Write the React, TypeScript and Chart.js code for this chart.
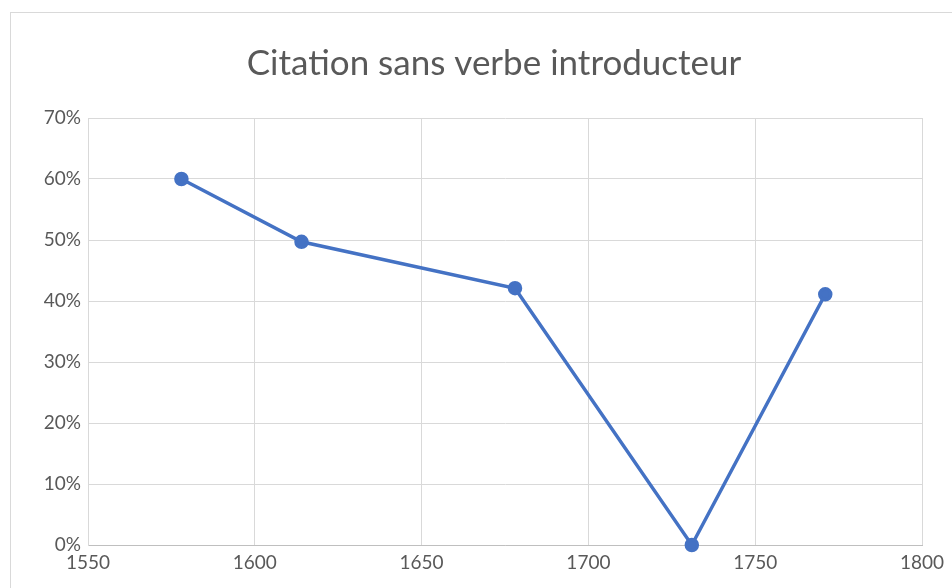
import React, { useEffect, useRef } from "react";
import { Chart, registerables } from "chart.js";

Chart.register(...registerables);

const TITLE = "Citation sans verbe introducteur";
const YEARS = [1578, 1614, 1678, 1731, 1771];
const SHARES = [0.6, 0.497, 0.421, 0.0, 0.411];
const X_MIN = 1550;
const X_MAX = 1800;
const X_STEP = 50;
const Y_MIN = 0;
const Y_MAX = 0.7;
const Y_STEP = 0.1;

const BLUE = "#4472C4";
const TEXT = "#595959";
const GRID = "#d9d9d9";

// Centre the title over the framed chart box rather than the canvas
const titleShift = {
  id: "titleShift",
  afterLayout(chart: any) {
    const t = chart.titleBlock;
    if (t) {
      t.left += 56;
    }
  },
};

export default function App() {
  const ref = useRef<HTMLCanvasElement | null>(null);

  useEffect(() => {
    if (!ref.current) return;
    const chart = new Chart(ref.current, {
      type: "line",
      data: {
        datasets: [
          {
            label: TITLE,
            data: YEARS.map((x, i) => ({ x, y: SHARES[i] })),
            borderColor: BLUE,
            backgroundColor: BLUE,
            borderWidth: 3.5,
            pointRadius: 5.5,
            pointBackgroundColor: BLUE,
            pointBorderColor: BLUE,
            tension: 0,
            clip: false,
          },
        ],
      },
      options: {
        responsive: false,
        animation: false,
        layout: { padding: { left: 10, right: 30, top: 0, bottom: 0 } },
        plugins: {
          legend: { display: false },
          tooltip: { enabled: false },
          title: {
            display: true,
            text: TITLE,
            color: TEXT,
            font: { family: "Lato", size: 35, weight: "normal" },
            padding: { top: 43, bottom: 33 },
          },
        },
        scales: {
          x: {
            type: "linear",
            min: X_MIN,
            max: X_MAX,
            ticks: {
              stepSize: X_STEP,
              color: TEXT,
              font: { family: "Lato", size: 19 },
              padding: 6,
              callback: (v: any) => String(v),
            },
            grid: { color: GRID, drawTicks: false },
            border: { color: "#bfbfbf" },
            afterFit: (s: any) => {
              s.height = 43;
            },
          },
          y: {
            min: Y_MIN,
            max: Y_MAX,
            ticks: {
              stepSize: Y_STEP,
              color: TEXT,
              font: { family: "Lato", size: 19 },
              padding: 7,
              callback: (v: any) => Math.round(Number(v) * 100) + "%",
            },
            grid: { color: GRID, drawTicks: false },
            border: { color: GRID },
            afterFit: (s: any) => {
              s.width = 78;
            },
          },
        },
      },
      plugins: [titleShift],
    });
    return () => chart.destroy();
  }, []);

  return (
    <div
      style={{
        position: "fixed",
        left: 0,
        top: 0,
        width: 952,
        height: 588,
        overflow: "hidden",
        background: "#fff",
      }}
    >
      <div
        style={{
          position: "absolute",
          left: 10,
          top: 12,
          width: 1000,
          height: 1000,
          border: "1px solid #d9d9d9",
        }}
      />
      <canvas
        ref={ref}
        width={952}
        height={588}
        style={{ position: "absolute", left: 0, top: 0, display: "block" }}
      />
    </div>
  );
}
